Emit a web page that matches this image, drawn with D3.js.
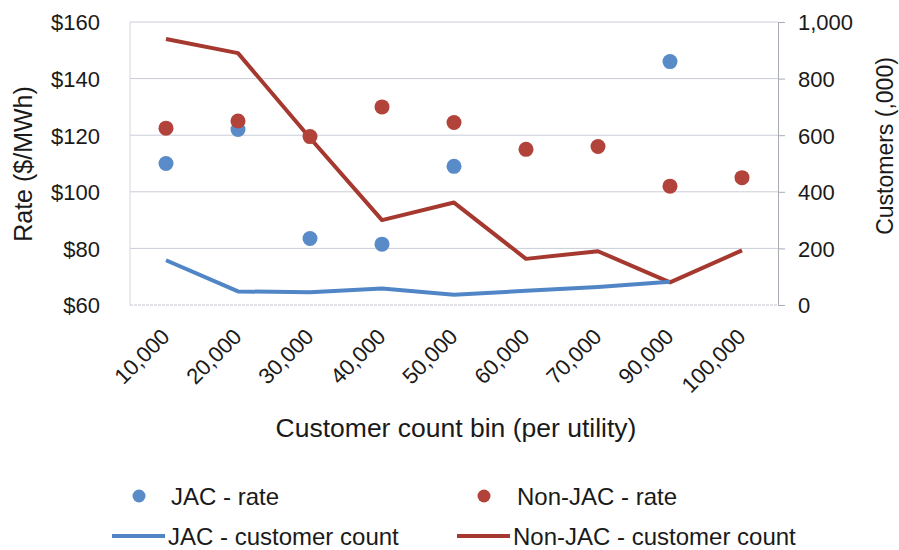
<!DOCTYPE html>
<html>
  <head>
    <meta charset="utf-8">
    <style>
    body { margin: 0; background: #fff; }
    svg { display: block; font-family: "Liberation Sans", Arial, sans-serif; }
    .grid line { stroke: #c9cdd8; stroke-width: 1; }
    .axis text { fill: #1a1a1a; font-size: 22px; }
    .axis-title { fill: #1a1a1a; }
    .legend text { fill: #1a1a1a; font-size: 24px; }
    </style>
  </head>
  <body>
    <div id="chart-area"></div>

    <script src="https://cdn.jsdelivr.net/npm/d3@7/dist/d3.min.js"></script>
    <script>
      // Data
      const categories = ["10,000", "20,000", "30,000", "40,000", "50,000", "60,000", "70,000", "90,000", "100,000"];
      const jacRate = [110, 122, 83.5, 81.5, 109, null, null, 146, null];
      const nonJacRate = [122.5, 125, 119.5, 130, 124.5, 115, 116, 102, 105];
      const jacCount = [158, 48, 45, 58, 36, 50, 64, 82, null];
      const nonJacCount = [940, 890, 590, 300, 362, 163, 190, 80, 193];
      const rateTicks = [60, 80, 100, 120, 140, 160];
      const countTicks = [0, 200, 400, 600, 800, 1000];

      const blue = "#5a8bc9";
      const blueLine = "#5086c6";
      const red = "#b2433b";
      const redLine = "#a5382f";

      const width = 899;
      const height = 550;
      const plot = { left: 130, right: 778, top: 22, bottom: 305 };

      const svg = d3.select("#chart-area")
        .append("svg")
          .attr("width", width)
          .attr("height", height);

      const x = d3.scaleBand()
        .domain(categories)
        .range([plot.left, plot.right]);

      const yRate = d3.scaleLinear()
        .domain([60, 160])
        .range([plot.bottom, plot.top]);

      const yCount = d3.scaleLinear()
        .domain([0, 1000])
        .range([plot.bottom, plot.top]);

      const cx = c => x(c) + x.bandwidth() / 2;

      // gridlines
      svg.append("g")
        .attr("class", "grid")
        .selectAll("line")
        .data(rateTicks.slice(1))
        .enter().append("line")
          .attr("x1", plot.left)
          .attr("x2", plot.right)
          .attr("y1", d => yRate(d))
          .attr("y2", d => yRate(d));

      // plot frame: left edge and bottom edge
      svg.append("line")
        .attr("x1", plot.left).attr("x2", plot.left)
        .attr("y1", plot.top).attr("y2", plot.bottom)
        .attr("stroke", "#d3d6de");
      svg.append("line")
        .attr("x1", plot.left).attr("x2", plot.right)
        .attr("y1", plot.bottom).attr("y2", plot.bottom)
        .attr("stroke", "#c4c7cf")
        .attr("stroke-dasharray", "3,1");

      // left axis (labels only)
      const leftAxis = svg.append("g")
        .attr("class", "axis")
        .attr("transform", `translate(${plot.left - 30}, 0)`)
        .call(d3.axisLeft(yRate).tickValues(rateTicks).tickSize(0).tickPadding(0).tickFormat(d => "$" + d));
      leftAxis.select(".domain").remove();
      leftAxis.selectAll("text").attr("dy", "0.36em");

      // right axis
      const rightAxis = svg.append("g")
        .attr("class", "axis")
        .attr("transform", `translate(${plot.right}, 0)`)
        .call(d3.axisRight(yCount).tickValues(countTicks).tickSize(7).tickPadding(13).tickSizeOuter(0).tickFormat(d3.format(",")));
      rightAxis.select(".domain").attr("stroke", "#a9acb4");
      rightAxis.selectAll(".tick line").attr("stroke", "#a9acb4");
      rightAxis.selectAll("text").attr("dy", "0.36em");

      // x tick labels, rotated
      svg.append("g")
        .attr("class", "axis")
        .selectAll("text")
        .data(categories)
        .enter().append("text")
          .attr("text-anchor", "end")
          .attr("transform", d => `translate(${cx(d) + 5}, 338) rotate(-45)`)
          .text(d => d);

      // axis titles
      svg.append("text")
        .attr("class", "axis-title")
        .attr("text-anchor", "middle")
        .attr("font-size", 25)
        .attr("transform", "translate(32, 164) rotate(-90)")
        .text("Rate ($/MWh)");

      svg.append("text")
        .attr("class", "axis-title")
        .attr("text-anchor", "middle")
        .attr("font-size", 23)
        .attr("transform", "translate(893, 146) rotate(-90)")
        .text("Customers (,000)");

      svg.append("text")
        .attr("class", "axis-title")
        .attr("text-anchor", "middle")
        .attr("font-size", 26.5)
        .attr("x", 456)
        .attr("y", 437)
        .text("Customer count bin (per utility)");

      // customer count lines
      const countLine = d3.line()
        .defined(d => d.v != null)
        .x(d => cx(d.c))
        .y(d => yCount(d.v));

      [[nonJacCount, redLine], [jacCount, blueLine]].forEach(([vals, col]) => {
        svg.append("path")
          .datum(categories.map((c, i) => ({ c: c, v: vals[i] })))
          .attr("fill", "none")
          .attr("stroke", col)
          .attr("stroke-width", 4)
          .attr("stroke-linejoin", "round")
          .attr("d", countLine);
      });

      // rate dots
      [[jacRate, blue], [nonJacRate, red]].forEach(([vals, col]) => {
        svg.append("g")
          .selectAll("circle")
          .data(categories.map((c, i) => ({ c: c, v: vals[i] })).filter(d => d.v != null))
          .enter().append("circle")
            .attr("cx", d => cx(d.c))
            .attr("cy", d => yRate(d.v))
            .attr("r", 7.5)
            .attr("fill", col);
      });

      // legend
      const legendItems = [
        { label: "JAC - rate", type: "dot", color: blue },
        { label: "Non-JAC - rate", type: "dot", color: red },
        { label: "JAC - customer count", type: "line", color: blueLine },
        { label: "Non-JAC - customer count", type: "line", color: redLine }
      ];

      const legend = svg.append("g").attr("class", "legend");

      legendItems.forEach((d, i) => {
        const col = i % 2;
        const row = Math.floor(i / 2);
        const g = legend.append("g")
          .attr("transform", `translate(${col === 0 ? 112 : 457}, ${row === 0 ? 496 : 536})`);
        if (d.type === "dot") {
          g.append("circle").attr("cx", 27).attr("cy", 0).attr("r", 6.5).attr("fill", d.color);
          g.append("text").attr("x", col === 0 ? 59 : 60).attr("dy", "0.36em").text(d.label);
        } else {
          g.append("line").attr("x1", 0).attr("x2", 53).attr("y1", 0).attr("y2", 0)
            .attr("stroke", d.color).attr("stroke-width", 4);
          g.append("text").attr("x", 56).attr("dy", "0.36em").text(d.label);
        }
      });
    </script>
  </body>
</html>
